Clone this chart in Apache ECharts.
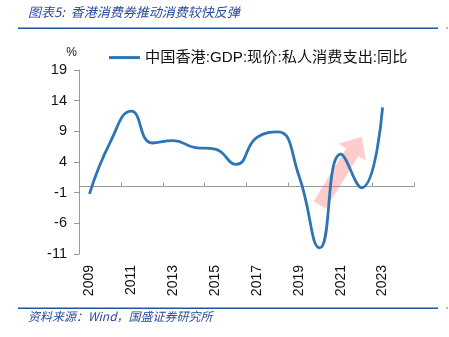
<!DOCTYPE html>
<html><head><meta charset="utf-8">
<script src="https://cdn.jsdelivr.net/npm/echarts@6/dist/echarts.min.js"></script>
<style>html,body{margin:0;padding:0;background:#fff}#c{width:449px;height:337px}</style>
</head><body><div id="c"></div>
<script>
const years = ['2009','2010','2011','2012','2013','2014','2015','2016','2017','2018','2019','2020','2021','2022','2023','2024'];
const seriesName = '中国香港:GDP:现价:私人消费支出:同比';
const consumptionYoY = [-1.2, 7.3, 12.3, 7.1, 7.5, 6.4, 6.1, 3.6, 8.0, 8.9, 1.8, -10.0, 5.3, -0.2, 12.9];
const arrowFrom = [10.8, -3.0];
const arrowTo = [13.38, 8.1];
const titleText = '图表5:  香港消费券推动消费较快反弹';
const sourceText = '资料来源：Wind，国盛证券研究所';

const chart = echarts.init(document.getElementById('c'), null, {renderer: 'canvas'});
const font = '"Liberation Sans", Arial, "Noto Sans CJK SC", sans-serif';
const blue = '#2E75B6';
const option = {
  animation: false,
  textStyle: {fontFamily: font},
  grid: {left: 79, right: 35, top: 70, bottom: 83, containLabel: false},
  legend: {
    left: 109, top: 50, padding: 0, itemWidth: 31, itemHeight: 10, itemGap: 4,
    icon: 'path://M0,3.5 L31,3.5 L31,6.5 L0,6.5 Z',
    textStyle: {fontSize: 15.2, color: '#111', fontFamily: font},
    data: [seriesName]
  },
  xAxis: [{
    type: 'category', data: years, boundaryGap: true,
    axisLine: {onZero: true, lineStyle: {color: '#999', width: 1}},
    axisTick: {show: true, inside: true, length: 4, interval: 1, lineStyle: {color: '#999'}},
    axisLabel: {show: false}, splitLine: {show: false}
  }, {
    type: 'category', data: years, boundaryGap: true, position: 'bottom',
    axisLine: {show: false, onZero: false}, axisTick: {show: false},
    axisLabel: {show: true, interval: 1, rotate: 90, fontSize: 14, color: '#111', margin: 11, fontFamily: font},
    splitLine: {show: false}
  }],
  yAxis: {
    type: 'value', min: -11, max: 19, interval: 5,
    name: '%', nameLocation: 'end', nameGap: 11,
    nameTextStyle: {fontSize: 12, color: '#111', padding: [0, 15, 0, 0]},
    axisLine: {show: true, lineStyle: {color: '#999'}},
    axisTick: {show: true, length: 5, lineStyle: {color: '#999'}},
    axisLabel: {fontSize: 14.5, color: '#111', margin: 12, fontFamily: font},
    splitLine: {show: false}
  },
  series: [{
    name: seriesName, type: 'line', xAxisIndex: 0, data: consumptionYoY,
    smooth: 0.5, symbol: 'none', z: 5,
    lineStyle: {color: blue, width: 2.8}, itemStyle: {color: blue}
  }],
  graphic: [
    {type: 'text', left: 28, top: 6, style: {text: titleText, font: 'italic 13px "Noto Sans CJK SC", sans-serif', fill: '#2B4C9B'}},
    {type: 'rect', shape: {x: 18, y: 27.5, width: 420, height: 1.4}, style: {fill: '#2452A0'}},
    {type: 'rect', shape: {x: 446.5, y: 27.5, width: 1.2, height: 1.2}, style: {fill: '#2452A0'}},
    {type: 'rect', shape: {x: 18, y: 307.5, width: 420, height: 1.4}, style: {fill: '#2452A0'}},
    {type: 'rect', shape: {x: 446.5, y: 307.5, width: 1.2, height: 1.2}, style: {fill: '#2452A0'}},
    {type: 'text', left: 28, top: 310, style: {text: sourceText, font: 'italic 12px "Noto Sans CJK SC", sans-serif', fill: '#2B4C9B'}}
  ]
};
chart.setOption(option);

// annotation arrow placed in data coordinates
const p0 = chart.convertToPixel({xAxisIndex: 0, yAxisIndex: 0}, arrowFrom);
const p1 = chart.convertToPixel({xAxisIndex: 0, yAxisIndex: 0}, arrowTo);
const dx = p1[0] - p0[0], dy = p1[1] - p0[1];
const L = Math.sqrt(dx * dx + dy * dy);
const ux = dx / L, uy = dy / L, px = -uy, py = ux;
const shaftW = 7.2, headW = 16, headL = 18;
const bx = p1[0] - ux * headL, by = p1[1] - uy * headL;
const pts = [
  [p0[0] + px * shaftW, p0[1] + py * shaftW],
  [bx + px * shaftW, by + py * shaftW],
  [bx + px * headW, by + py * headW],
  [p1[0], p1[1]],
  [bx - px * headW, by - py * headW],
  [bx - px * shaftW, by - py * shaftW],
  [p0[0] - px * shaftW, p0[1] - py * shaftW]
];
chart.setOption({graphic: option.graphic.concat([
  {type: 'polygon', z: 1, shape: {points: pts}, style: {fill: 'rgba(255,120,120,0.38)'}}
])});
</script></body></html>
